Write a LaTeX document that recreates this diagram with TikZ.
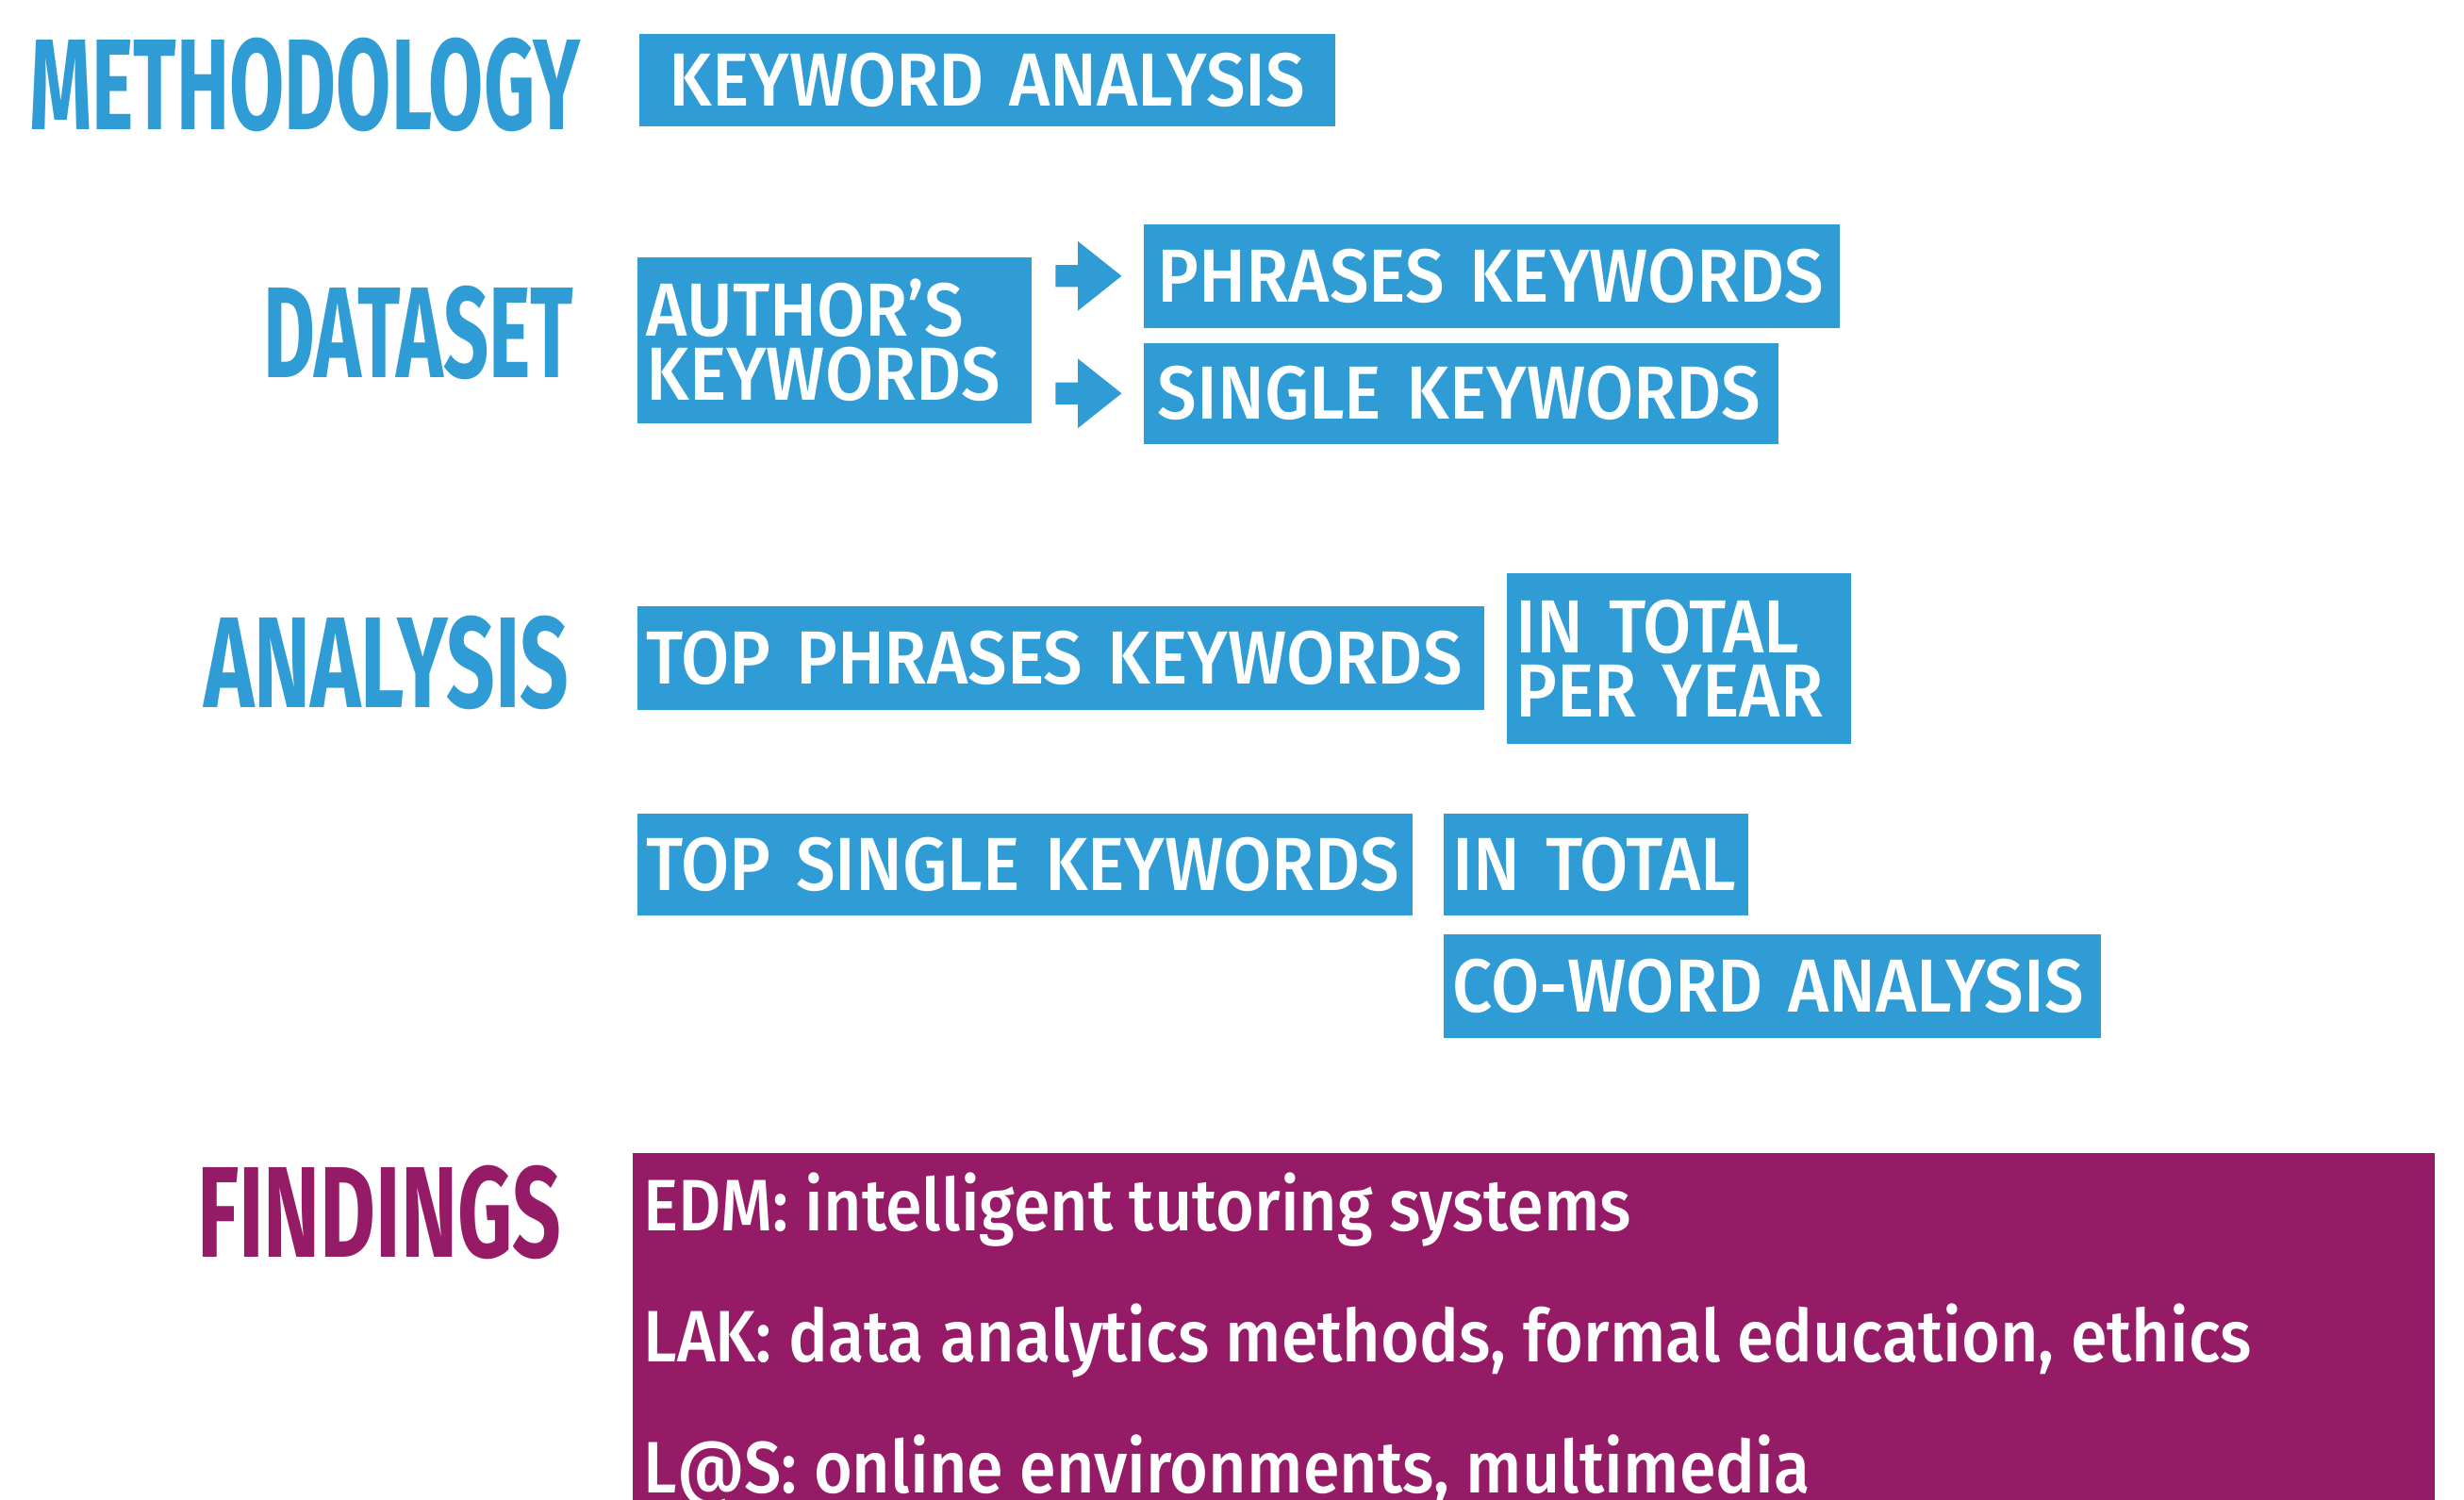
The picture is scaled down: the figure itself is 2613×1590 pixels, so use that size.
\documentclass[tikz,border=0pt]{standalone}
\usepackage{fontspec}
\usetikzlibrary{positioning, calc, shapes.arrows}
\setmainfont{Fira Sans}
\newfontfamily\boxfont[FakeStretch=0.93, UprightFont=* Medium]{Fira Sans}
\newfontfamily\findfont[FakeStretch=0.905, UprightFont=* Medium]{Fira Sans}
\newfontfamily\titlefont[FakeStretch=0.615]{Fira Sans}
\newfontfamily\titlewide[FakeStretch=0.66]{Fira Sans}
\definecolor{kwblue}{RGB}{47,156,214}
\definecolor{kwpurple}{RGB}{150,27,103}

\begin{document}
\begin{tikzpicture}[x=0.01cm, y=-0.01cm,
    title/.style={anchor=base east, inner sep=0, text=kwblue,
        font=\titlefont\bfseries\fontsize{39}{39}\selectfont},
    widetitle/.style={title, font=\titlewide\bfseries\fontsize{39}{39}\selectfont},
    tag/.style={anchor=north west, fill=kwblue, text=white, inner xsep=0.1cm,
        inner ysep=0, align=left, font=\boxfont\fontsize{22.7}{19.3}\selectfont},
    finding/.style={anchor=base west, inner sep=0, text=white,
        font=\findfont\fontsize{22}{22}\selectfont},
    blockarrow/.style={single arrow, fill=kwblue, inner xsep=0, inner ysep=0.11cm, anchor=tail,
        minimum height=0.7cm, single arrow head extend=0.25cm, single arrow tip angle=77}
]
    \useasboundingbox (0, 0) rectangle (2613, 1590);
    % left column
    \node[title] (methodology) at (616, 137) {METHODOLOGY};
    \node[title] (dataset) at (609, 400) {DATASET};
    \node[widetitle] (analysis) at (604, 750) {ANALYSIS};
    \node[widetitle, text=kwpurple] (findings) at (596, 1333) {FINDINGS};
    % methodology
    \node[tag, align=center, text width=7.18cm, minimum height=0.98cm] (kwanalysis) at (677, 35) {KEYWORD ANALYSIS};
    % dataset
    \node[tag, text width=3.98cm, minimum height=1.76cm] (authors) at (675, 272) {AUTHOR’S\\KEYWORDS};
    \node[tag, inner xsep=0.15cm, text width=7.08cm, minimum height=1.10cm] (phrases) at (1212, 237) {PHRASES KEYWORDS};
    \node[tag, inner xsep=0.15cm, text width=6.43cm, minimum height=1.07cm] (single) at (1212, 363) {SINGLE KEYWORDS};
    \node[blockarrow] (toPhrases) at ($(authors.east |- phrases.west)+(24, 0)$) {};
    \node[blockarrow] (toSingle) at ($(authors.east |- single.west)+(24, 0)$) {};
    % analysis
    \node[tag, text width=8.78cm, minimum height=1.10cm] (topPhrases) at (675, 642) {TOP PHRASES KEYWORDS};
    \node[tag, text width=3.45cm, minimum height=1.81cm] (perYear) at (1597, 607) {IN TOTAL\\PER YEAR};
    \node[tag, text width=8.02cm, minimum height=1.08cm] (topSingle) at (675, 862) {TOP SINGLE KEYWORDS};
    \node[tag, text width=3.03cm, minimum height=1.08cm] (inTotal) at (1530, 862) {IN TOTAL};
    \node[tag, text width=6.77cm, minimum height=1.10cm] (coword) at (1530, 990) {CO-WORD ANALYSIS};
    % findings
    \node[anchor=north west, fill=kwpurple, inner sep=0, minimum width=19.10cm, minimum height=3.80cm] (findBox) at (670, 1222) {};
    \node[finding] (edm) at ($(findBox.north west)+(12, 83)$) {EDM: intelligent tutoring systems};
    \node[finding] (lak) at ($(edm.base west)+(0, 139)$) {LAK: data analytics methods, formal education, ethics};
    \node[finding] (las) at ($(lak.base west)+(0, 139)$) {L@S: online environments, multimedia};
\end{tikzpicture}
\end{document}
